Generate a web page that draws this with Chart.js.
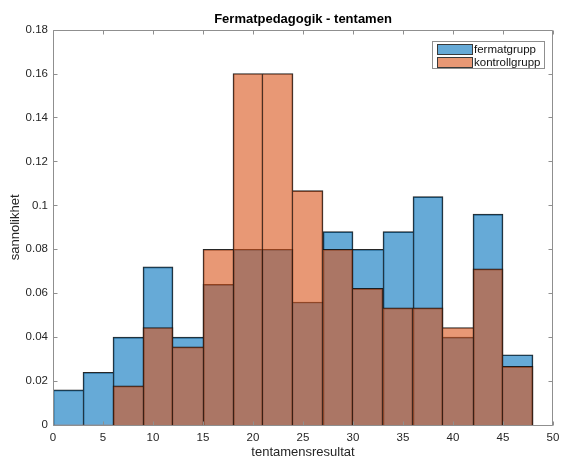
<!DOCTYPE html>
<html>
<head>
<meta charset="utf-8">
<script src="https://cdn.jsdelivr.net/npm/chart.js@4/dist/chart.umd.min.js"></script>
<style>
html,body{margin:0;padding:0;background:#fff;overflow:hidden;}
#wrap{position:relative;width:561px;height:456px;}
</style>
</head>
<body>
<div id="wrap"><canvas id="c" width="561" height="456"></canvas></div>
<script>
// Bin centres (bin width 3, edges 0..48)
const binCenters = [1.5, 4.5, 7.5, 10.5, 13.5, 16.5, 19.5, 22.5, 25.5, 28.5, 31.5, 34.5, 37.5, 40.5, 43.5, 46.5];
const fermatValues = [0.016, 0.024, 0.040, 0.072, 0.040, 0.064, 0.080, 0.080, 0.056, 0.088, 0.080, 0.088, 0.104, 0.040, 0.096, 0.032];
const kontrollValues = [0, 0, 0.0178, 0.0444, 0.0356, 0.080, 0.160, 0.160, 0.1067, 0.080, 0.0622, 0.0533, 0.0533, 0.0444, 0.0711, 0.0267];
const seriesLabels = ['fermatgrupp', 'kontrollgrupp'];
const chartTitle = 'Fermatpedagogik - tentamen';
const xTitle = 'tentamensresultat';
const yTitle = 'sannolikhet';
const xTicks = [0, 5, 10, 15, 20, 25, 30, 35, 40, 45, 50];
const yTicks = [0, 0.02, 0.04, 0.06, 0.08, 0.1, 0.12, 0.14, 0.16, 0.18];

const FONT = "'Liberation Sans', Arial, Helvetica, sans-serif";
const blueFill = 'rgba(0,114,189,0.6)';
const orangeFill = 'rgba(217,83,25,0.6)';
const edge = 'rgba(15,15,15,0.9)';

const toPoints = (vals) => vals.map((v, i) => ({x: binCenters[i], y: v}));
// One shared edge between neighbouring bins: drawn by the taller bin
const edgeWidth = (ctx) => {
  const vals = ctx.dataset ? ctx.dataset.data.map(p => p.y) : [];
  const i = ctx.dataIndex;
  const v = vals[i] || 0;
  if (!(v > 0)) return 0;
  const prev = i > 0 ? vals[i - 1] : 0;
  const next = i < vals.length - 1 ? vals[i + 1] : 0;
  return {left: v > prev ? 1 : 0, right: v >= next ? 1 : 0, top: 1, bottom: 0};
};

// Box around the axes with inward tick marks on all four sides
const boxPlugin = {
  id: 'boxPlugin',
  afterDatasetsDraw(chart) {
    const {ctx, chartArea: a, scales: {x, y}} = chart;
    ctx.save();
    ctx.strokeStyle = '#8f8f8f';
    ctx.lineWidth = 1;
    const L = Math.round(a.left) + 0.5, R = Math.round(a.right) - 0.5;
    const T = Math.round(a.top) + 0.5, B = Math.round(a.bottom) + 0.5;
    ctx.beginPath();
    ctx.rect(L, T, R - L, B - T);
    ctx.stroke();
    const tl = 4;
    ctx.beginPath();
    xTicks.forEach(v => {
      const px = Math.round(x.getPixelForValue(v)) + 0.5;
      ctx.moveTo(px, B); ctx.lineTo(px, B - tl);
      ctx.moveTo(px, T); ctx.lineTo(px, T + tl);
    });
    yTicks.forEach(v => {
      const py = Math.round(y.getPixelForValue(v)) + 0.5;
      ctx.moveTo(L, py); ctx.lineTo(L + tl, py);
      ctx.moveTo(R, py); ctx.lineTo(R - tl, py);
    });
    ctx.stroke();
    ctx.restore();
  }
};

// Legend box inside the axes, top right (MATLAB style)
const legendPlugin = {
  id: 'insideLegend',
  afterDraw(chart) {
    const {ctx, chartArea: a} = chart;
    const ds = chart.data.datasets;
    ctx.save();
    const boxL = Math.round(a.right - 121), boxT = Math.round(a.top + 11), boxW = 112, boxH = 27;
    ctx.fillStyle = '#ffffff';
    ctx.fillRect(boxL, boxT, boxW, boxH);
    ctx.strokeStyle = '#8f8f8f';
    ctx.lineWidth = 1;
    ctx.strokeRect(boxL + 0.5, boxT + 0.5, boxW, boxH);
    ctx.font = '11.5px ' + FONT;
    ctx.textBaseline = 'middle';
    ctx.textAlign = 'left';
    ds.forEach((d, i) => {
      const sy = Math.round(boxT + 3 + i * 13.4);
      ctx.fillStyle = d.backgroundColor;
      ctx.fillRect(boxL + 5, sy, 35, 10);
      ctx.strokeStyle = '#3a3a3a';
      ctx.strokeRect(boxL + 5.5, sy + 0.5, 35, 10);
      ctx.fillStyle = '#111111';
      ctx.fillText(d.label, boxL + 42, sy + 6);
    });
    ctx.restore();
  }
};

new Chart(document.getElementById('c'), {
  type: 'bar',
  data: {
    datasets: [
      {label: seriesLabels[0], data: toPoints(fermatValues), backgroundColor: blueFill,
       borderColor: edge, borderWidth: edgeWidth, borderSkipped: false, order: 2},
      {label: seriesLabels[1], data: toPoints(kontrollValues), backgroundColor: orangeFill,
       borderColor: edge, borderWidth: edgeWidth, borderSkipped: false, order: 1}
    ]
  },
  options: {
    responsive: false,
    animation: false,
    devicePixelRatio: 1,
    layout: {padding: {left: 0, right: 8, top: 0, bottom: 0}},
    datasets: {bar: {barPercentage: 1, categoryPercentage: 1, grouped: false}},
    plugins: {
      legend: {display: false},
      tooltip: {enabled: false},
      title: {
        display: true, text: chartTitle, fullSize: false, color: '#000',
        font: {family: FONT, size: 13, weight: 'bold', lineHeight: 1.2},
        padding: {top: 12, bottom: 2}
      }
    },
    scales: {
      x: {
        type: 'linear', min: 0, max: 50, offset: false,
        afterBuildTicks: (s) => { s.ticks = xTicks.map(v => ({value: v})); },
        afterFit: (s) => { s.height = 31; s.paddingRight = 0; s.paddingLeft = 0; },
        grid: {display: false, drawTicks: false, offset: false},
        border: {display: false},
        ticks: {color: '#262626', font: {family: FONT, size: 11.5}, padding: 6, maxRotation: 0,
                callback: (v) => String(v)},
        title: {display: true, text: xTitle, color: '#262626',
                font: {family: FONT, size: 13, lineHeight: 1.2}, padding: {top: 0, bottom: -3.8}}
      },
      y: {
        type: 'linear', min: 0, max: 0.18,
        afterBuildTicks: (s) => { s.ticks = yTicks.map(v => ({value: v})); },
        afterFit: (s) => { s.width = 53; },
        grid: {display: false, drawTicks: false},
        border: {display: false},
        ticks: {color: '#262626', font: {family: FONT, size: 11.5}, padding: 5,
                callback: (v) => String(+(+v).toFixed(2))},
        title: {display: true, text: yTitle, color: '#262626',
                font: {family: FONT, size: 13, lineHeight: 1.2}, padding: {top: 7.5, bottom: 0}}
      }
    }
  },
  plugins: [boxPlugin, legendPlugin]
});
</script>
</body>
</html>
